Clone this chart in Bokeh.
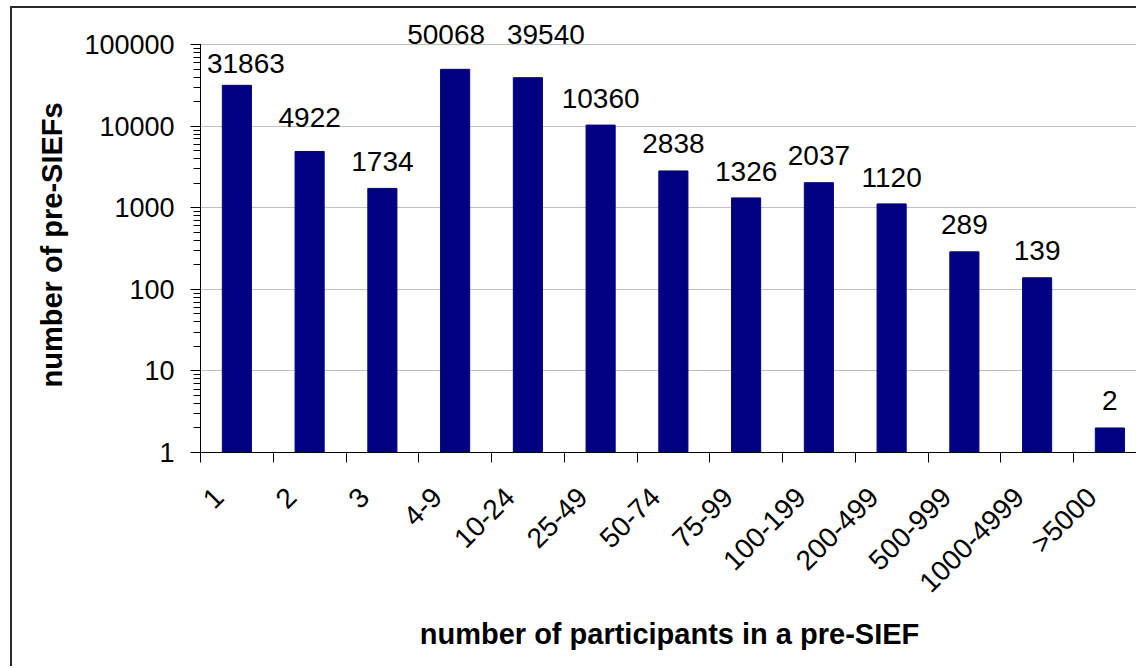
import math
from bokeh.plotting import figure
from bokeh.models import Range1d, FixedTicker, ColumnDataSource, LogTicker, Title
from bokeh.core.properties import value
from bokeh.embed import file_html
from bokeh.resources import INLINE

categories = ["1", "2", "3", "4-9", "10-24", "25-49", "50-74", "75-99",
              "100-199", "200-499", "500-999", "1000-4999", ">5000"]
counts = [31863, 4922, 1734, 50068, 39540, 10360, 2838, 1326, 2037, 1120, 289, 139, 2]
label_dx = [9, 0, 0, -9, 18, 0, 0, 0, 0, 0, 0, 0, 0]
label_dy = [-22, -34, -27, -35, -43, -27, -27, -26, -27, -26, -27, -27, -27]

FONT = "Liberation Sans"
DECADE = 81.5
n = len(categories)
centers = [i + 0.5 for i in range(n)]
label_pos = [c - 0.25 for c in centers]

W, H = 1126, 660
frame_left = 188
y_top = 10 ** (5 + (44.3 - 8) / DECADE)

p = figure(width=W, height=H, output_backend="svg", toolbar_location=None,
           y_axis_type="log",
           x_range=Range1d(0, (1138 - 200) / 72.75),
           y_range=Range1d(1, y_top),
           min_border_left=frame_left, min_border_right=0,
           min_border_top=0, min_border_bottom=H - int(round(5.445 * DECADE)),
           background_fill_color="white", border_fill_color="white")
p.outline_line_color = None
p.styles = {"border-left": "2px solid #2b2b2b", "border-top": "2px solid #2b2b2b",
            "margin-left": "10px", "margin-top": "6px"}

src = ColumnDataSource(dict(x=centers, top=counts, bottom=[1] * n,
                            lbl=[str(c) for c in counts], dx=label_dx, dy=label_dy))
p.vbar(x="x", top="top", bottom="bottom", width=0.4, source=src,
       fill_color="#000080", line_color="#000080")
p.text(x="x", y="top", text="lbl", x_offset="dx", y_offset="dy", source=src,
       text_font=value(FONT), text_font_size="28px", text_color="black",
       text_align="center", text_baseline="alphabetic")

# x axis
xa = p.xaxis[0]
xa.ticker = FixedTicker(ticks=label_pos, minor_ticks=list(range(n + 1)))
xa.major_label_overrides = {c: lab for c, lab in zip(label_pos, categories)}
xa.major_tick_out = 0
xa.major_tick_in = 0
xa.minor_tick_out = 10
xa.minor_tick_in = 0
xa.minor_tick_line_color = "black"
xa.axis_line_color = "black"
xa.major_label_orientation = math.pi / 4
xa.major_label_text_font = FONT
xa.major_label_text_font_size = "28px"
xa.major_label_text_color = "black"
xa.major_label_standoff = 30
xa.axis_label = "number of participants in a pre-SIEF"
xa.axis_label_text_font = FONT
xa.axis_label_text_font_size = "29px"
xa.axis_label_text_font_style = "bold"
xa.axis_label_text_color = "black"
xa.axis_label_standoff = 6

# y axis
ya = p.yaxis[0]
ya.ticker = LogTicker(num_minor_ticks=10)
ya.bounds = (1, 100000)
ya.major_tick_out = 10
ya.major_tick_in = 0
ya.minor_tick_out = 7
ya.minor_tick_in = 0
ya.major_tick_line_color = "black"
ya.minor_tick_line_color = "black"
ya.axis_line_color = "black"
ya.major_label_text_font = FONT
ya.major_label_text_font_size = "27px"
ya.major_label_text_color = "black"
ya.major_label_standoff = 16
ya.major_label_overrides = {1: "1", 10: "10", 100: "100", 1000: "1000",
                            10000: "10000", 100000: "100000"}

ytitle = Title(text="number of pre-SIEFs", text_font=FONT, text_font_size="29px",
               text_font_style="bold", text_color="black", align="left",
               offset=65, standoff=28)
p.add_layout(ytitle, "left")

p.xgrid.visible = False
p.ygrid.grid_line_color = "#c0c0c0"
p.ygrid.grid_line_width = 1
p.ygrid.bounds = (1, 100000)

open("out.html", "w").write(file_html(p, INLINE))
